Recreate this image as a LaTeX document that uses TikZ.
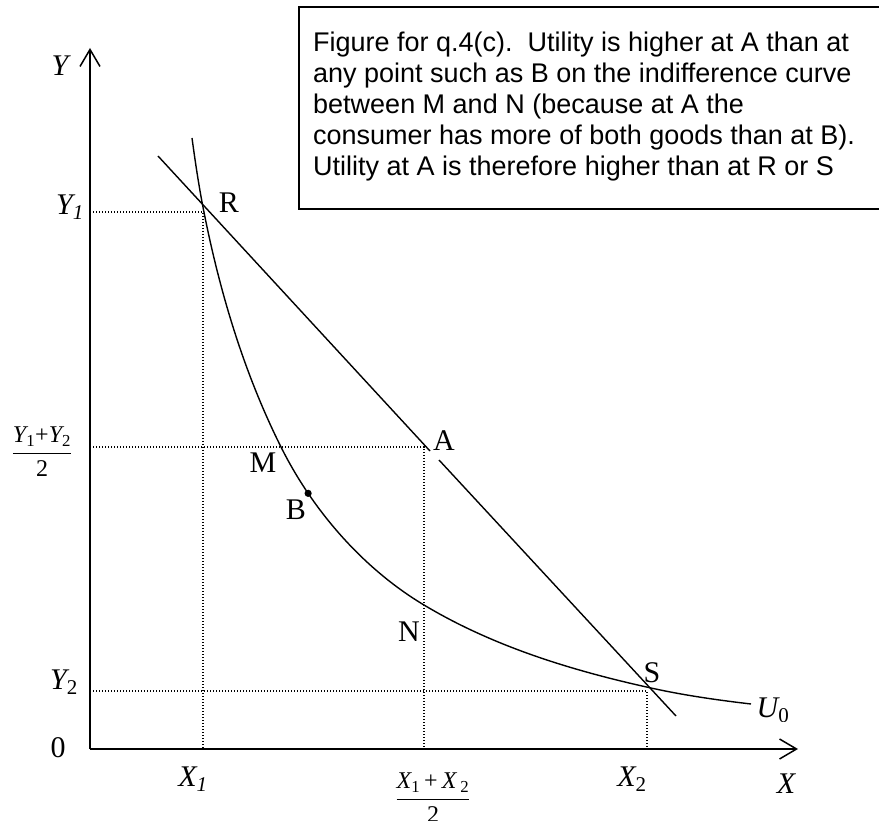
\documentclass[tikz,border=0pt]{standalone}
\usepackage{fontspec}
\setmainfont{Liberation Serif}
\newfontfamily\arialfont{Liberation Sans}
\usetikzlibrary{arrows.meta}
\begin{document}
\frenchspacing
\begin{tikzpicture}[x=1pt,y=-1pt,
  axis/.style={line width=1.8pt, -{Straight Barb[length=17pt,width=20pt,line width=1.5pt]}},
  curve/.style={line width=1.4pt},
  guide/.style={line width=1.2pt, dash pattern=on 1.2pt off 1.8pt},
  lab/.style={font=\fontsize{30}{36}\selectfont, inner sep=0pt},
  fraclab/.style={font=\fontsize{24}{28}\selectfont, inner sep=0pt},
  boxline/.style={line width=1.3pt}
]
\useasboundingbox (0,0) rectangle (879,821);

% axes
\coordinate (O) at (90,749);
\coordinate (Ytip) at (90,48);
\coordinate (Xtip) at (798,749);
\draw[axis] (O) -- (Ytip);
\draw[axis] (O) -- (Xtip);

% key points
\coordinate (Rc) at (203,212);
\coordinate (Ac) at (424,447);
\coordinate (Sc) at (647,691);
\coordinate (y1) at (90,212);
\coordinate (ym) at (90,447);
\coordinate (y2) at (90,691);
\coordinate (x1) at (203,749);
\coordinate (xm) at (424,749);
\coordinate (x2) at (647,749);

% dotted guides
\draw[guide] (y1) -- (Rc) -- (x1);
\draw[guide] (ym) -- (Ac) -- (xm);
\draw[guide] (y2) -- (Sc) -- (x2);

% budget line (with gap at A)
\coordinate (BLa) at (158,156);
\coordinate (BLb) at (430,451);
\coordinate (BLc) at (439,460);
\coordinate (BLd) at (676,716);
\draw[curve] (BLa) -- (BLb);
\draw[curve] (BLc) -- (BLd);

% indifference curve U0
\coordinate (Utop) at (192,138);
\coordinate (UR) at (202,202);
\coordinate (UM) at (281,447);
\coordinate (UN) at (424,605);
\coordinate (US) at (651,688);
\coordinate (Uend) at (751,704);
\draw[curve] (Utop) .. controls (195,160) and (198,180.4) .. (UR)
  .. controls (218,286) and (242.5,370) .. (UM);
\draw[curve] (UM) .. controls (312.7,510.5) and (363,568.5) .. coordinate[pos=0.25] (Bpt) (UN)
  .. controls (493.4,646.6) and (572,670.6) .. (US)
  .. controls (684,695.3) and (717,700) .. (Uend);
\fill (Bpt) circle[radius=3.6pt];

% point labels
\node[lab] (R) at (229,203) {R};
\node[lab] (A) at (444,441) {A};
\node[lab] (M) at (263,463) {M};
\node[lab] (B) at (296,510) {B};
\node[lab] (N) at (409,632) {N};
\node[lab] (S) at (652,673) {S};
\begin{scope}
\clip (735,670) rectangle (810,721);
\node[lab] (U) at (773,710) {\itshape U\textsubscript{\upshape 0}};
\end{scope}

% axis labels
\node[lab] (Ylab) at (60,66) {\itshape Y};
\node[lab] (Xlab) at (786,784) {\itshape X};
\node[lab] (zero) at (58,748) {0};
\node[lab] (Y1lab) at (70,207) {\itshape Y\textsubscript{1}};
\node[lab] (Y2lab) at (64,682) {\itshape Y\textsubscript{\upshape 2}};
\node[lab] (X1lab) at (193,779) {\itshape X\textsubscript{1}};
\node[lab] (X2lab) at (632,779) {\itshape X\textsubscript{\upshape 2}};
\node[fraclab] (Yfrac) at (42,452) {$\displaystyle\frac{\hbox{\itshape Y\textsubscript{\upshape 1}\upshape+\itshape Y\textsubscript{\upshape 2}}}{\hbox{2}}$};
\node[fraclab] (Xfrac) at (433,798) {$\displaystyle\frac{\hbox{\itshape X\textsubscript{\upshape 1}\,\upshape+\,\itshape X\,\textsubscript{\upshape 2}}}{\hbox{2}}$};

% text box
\draw[boxline] (884,7) -- (299,7) -- (299,209) -- (884,209);
\node[anchor=base west, inner sep=0pt] (note) at (313,52) {\parbox[t]{560pt}{\raggedright\arialfont\fontsize{27}{31}\selectfont
Figure for q.4(c).~ Utility is higher at A than at\\
any point such as B on the indifference curve\\
between M and N (because at A the\\
consumer has more of both goods than at B).\\
Utility at A is therefore higher than at R or S}};
\end{tikzpicture}
\end{document}
